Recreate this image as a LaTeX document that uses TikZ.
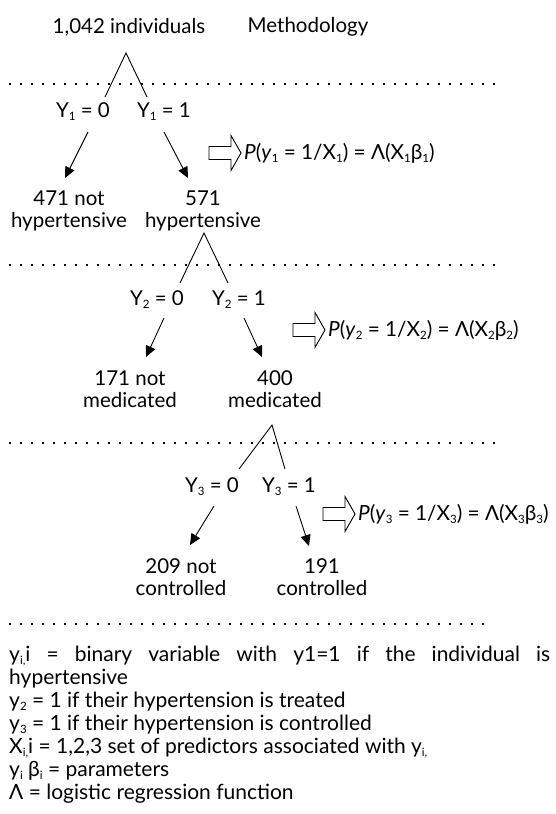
\documentclass[tikz,border=0pt]{standalone}
\usepackage{fontspec}
\setmainfont{Lato}
\usetikzlibrary{arrows.meta}
\newcommand{\sbs}[1]{\raisebox{-3pt}{\fontsize{11.5}{12}\selectfont #1}}
\begin{document}
\begin{tikzpicture}[x=1pt,y=-1pt,
  lbl/.style={inner sep=0pt, font=\fontsize{20.5}{22}\selectfont, align=center},
  frm/.style={inner sep=0pt, font=\fontsize{20.8}{22}\selectfont, anchor=west},
  txt/.style={inner sep=0pt, font=\fontsize{21}{23}\selectfont, anchor=base west},
  leg/.style={line width=0.9pt},
  arr/.style={line width=0.9pt, -{Triangle[length=11pt,width=10pt]}},
  dots/.style={line width=2pt, dash pattern=on 2pt off 9pt},
  harrow/.pic={\draw[line width=0.9pt, line join=miter] (-32,-6.5) -- (-10,-6.5) -- (-10,-17.5) -- (0,0) -- (-10,17.5) -- (-10,6.5) -- (-32,6.5) -- cycle;}]
\useasboundingbox (0,0) rectangle (555,814);

% level 0
\node[lbl] (top) at (129,27) {1,042 individuals};
\node[lbl] (meth) at (308,27) {Methodology};
\coordinate (a1) at (126,53);
\coordinate (a1l) at (105,97);
\coordinate (a1r) at (147,97);
\draw[leg] (a1l) -- (a1) -- (a1r);
\coordinate (d1s) at (9,84); \coordinate (d1e) at (495,84);
\draw[dots] (d1s) -- (d1e);

% level 1
\node[lbl] (y10) at (83,112) {Y\sbs{1} = 0};
\node[lbl] (y11) at (164,112) {Y\sbs{1} = 1};
\coordinate (s10) at (88,132); \coordinate (e10) at (65,178);
\coordinate (s11) at (164,132); \coordinate (e11) at (188,178);
\draw[arr] (s10) -- (e10);
\draw[arr] (s11) -- (e11);
\pic at (241,153) {harrow};
\node[frm] (f1) at (244,153) {\textit{P}(\textit{y}\sbs{1} = 1/X\sbs{1}) = Λ(X\sbs{1}β\sbs{1})};
\node[lbl] (n471) at (69,211) {471 not\\hypertensive};
\node[lbl] (n571) at (203,211) {571\\hypertensive};

% level 2
\coordinate (a2) at (204,233);
\coordinate (a2l) at (180,283);
\coordinate (a2r) at (228,283);
\draw[leg] (a2l) -- (a2) -- (a2r);
\coordinate (d2s) at (9,265); \coordinate (d2e) at (495,265);
\draw[dots] (d2s) -- (d2e);
\node[lbl] (y20) at (157,300) {Y\sbs{2} = 0};
\node[lbl] (y21) at (239,300) {Y\sbs{2} = 1};
\coordinate (s20) at (164,318); \coordinate (e20) at (146,357);
\coordinate (s21) at (244,318); \coordinate (e21) at (262,357);
\draw[arr] (s20) -- (e20);
\draw[arr] (s21) -- (e21);
\pic at (325,330) {harrow};
\node[frm] (f2) at (328,330) {\textit{P}(\textit{y}\sbs{2} = 1/X\sbs{2}) = Λ(X\sbs{2}β\sbs{2})};
\node[lbl] (n171) at (130,389) {171 not\\medicated};
\node[lbl] (n400) at (275,389) {400\\medicated};

% level 3
\coordinate (a3) at (272,425);
\coordinate (a3l) at (239,469);
\coordinate (a3r) at (285,469);
\draw[leg] (a3l) -- (a3) -- (a3r);
\coordinate (d3s) at (9,443); \coordinate (d3e) at (495,443);
\draw[dots] (d3s) -- (d3e);
\node[lbl] (y30) at (212,487) {Y\sbs{3} = 0};
\node[lbl] (y31) at (289,487) {Y\sbs{3} = 1};
\coordinate (s30) at (214,506); \coordinate (e30) at (190,545);
\coordinate (s31) at (296,506); \coordinate (e31) at (309,546);
\draw[arr] (s30) -- (e30);
\draw[arr] (s31) -- (e31);
\pic at (355,514) {harrow};
\node[frm] (f3) at (358,514) {\textit{P}(\textit{y}\sbs{3} = 1/X\sbs{3}) = Λ(X\sbs{3}β\sbs{3})};
\node[lbl] (n209) at (181,577) {209 not\\controlled};
\node[lbl] (n191) at (322,577) {191\\controlled};

% legend
\coordinate (d4s) at (9,624); \coordinate (d4e) at (490,624);
\draw[dots] (d4s) -- (d4e);
\node[txt] (l1) at (9,661) {\makebox[541pt][s]{y\sbs{i,}i = binary variable with y1=1 if the individual is}};
\node[txt] (l2) at (9,684) {hypertensive};
\node[txt] (l3) at (9,707) {y\sbs{2} = 1 if their hypertension is treated};
\node[txt] (l4) at (9,730) {y\sbs{3} = 1 if their hypertension is controlled};
\node[txt] (l5) at (9,753) {X\sbs{i,}i = 1,2,3 set of predictors associated with y\sbs{i,}};
\node[txt] (l6) at (9,776) {y\sbs{i} β\sbs{i} = parameters};
\node[txt] (l7) at (9,799) {Λ = logistic regression function};
\end{tikzpicture}
\end{document}
